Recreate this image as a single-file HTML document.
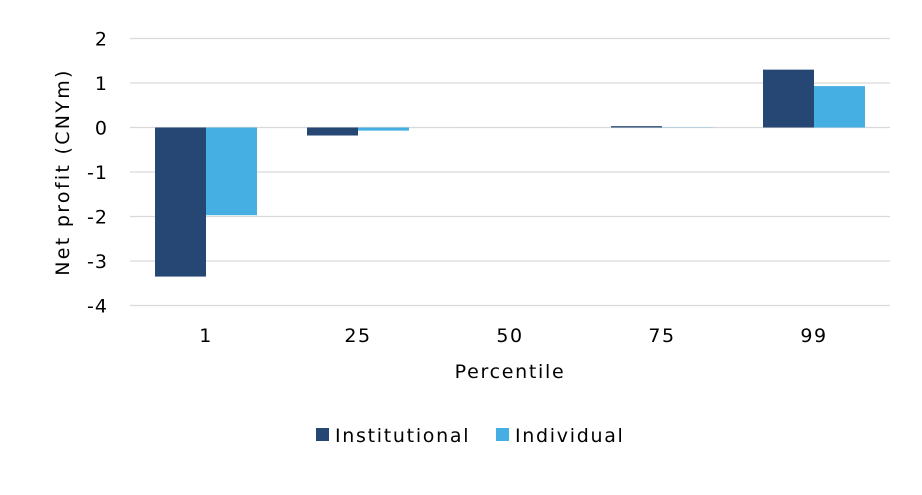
<!DOCTYPE html>
<html><head><meta charset="utf-8"><style>
body{margin:0;background:#fff;width:922px;height:490px;overflow:hidden;font-family:"Liberation Sans","DejaVu Sans",sans-serif}
</style></head><body>
<svg id="chart" width="922" height="490" xmlns="http://www.w3.org/2000/svg" font-family="'DejaVu Sans','Liberation Sans',sans-serif" font-size="19" fill="#000"></svg>
<script>
const categories=["1","25","50","75","99"];
const institutional=[-3.35,-0.18,0,0.03,1.3];
const individual=[-1.97,-0.07,0,0.005,0.93];
const yTicks=[2,1,0,-1,-2,-3,-4];
const svg=document.getElementById('chart');
const NS="http://www.w3.org/2000/svg";
const x0=130,x1=890,yTop=38.5,yBot=305.5,yMax=2,yMin=-4;
const y=v=>yTop+(yMax-v)/(yMax-yMin)*(yBot-yTop);
const band=(x1-x0)/categories.length;
const bw=51;
function el(t,a){const e=document.createElementNS(NS,t);for(const k in a)e.setAttribute(k,a[k]);svg.appendChild(e);return e;}
yTicks.forEach(t=>{
 const g=el('line',{x1:x0,x2:x1,y1:y(t),y2:y(t),stroke:'#d9d9d9','stroke-width':1.3});
 
 
 const l=el('text',{x:108,y:y(t)+7,'text-anchor':'end','letter-spacing':1});l.textContent=t;
 
 
});
categories.forEach((c,i)=>{
 const cx=x0+band*(i+0.5);
 const a=institutional[i],b=individual[i];
 const r1=el('rect',{x:cx-bw,y:Math.min(y(a),y(0)),width:bw,height:Math.max(Math.abs(y(a)-y(0)),0.01),fill:'#264773'});
 
 
 const r2=el('rect',{x:cx,y:Math.min(y(b),y(0)),width:bw,height:Math.max(Math.abs(y(b)-y(0)),0.01),fill:'#45aee2'});
 
 
 const t=el('text',{x:cx,y:342,'text-anchor':'middle','letter-spacing':1.5});t.textContent=c;
 
 
});
const xt=el('text',{x:510,y:378,'text-anchor':'middle','letter-spacing':1.7});xt.textContent='Percentile';


const yt=el('text',{x:0,y:0,'text-anchor':'middle','letter-spacing':2.3,transform:'translate(69,172) rotate(-90)'});yt.textContent='Net profit (CNYm)';


const l1=el('rect',{x:316,y:428,width:13,height:13,fill:'#264773'});


const lt1=el('text',{x:335,y:442,'letter-spacing':1.7});lt1.textContent='Institutional';


const l2=el('rect',{x:496,y:428,width:13,height:13,fill:'#45aee2'});


const lt2=el('text',{x:515,y:442,'letter-spacing':1.7});lt2.textContent='Individual';


</script>
</body></html>
